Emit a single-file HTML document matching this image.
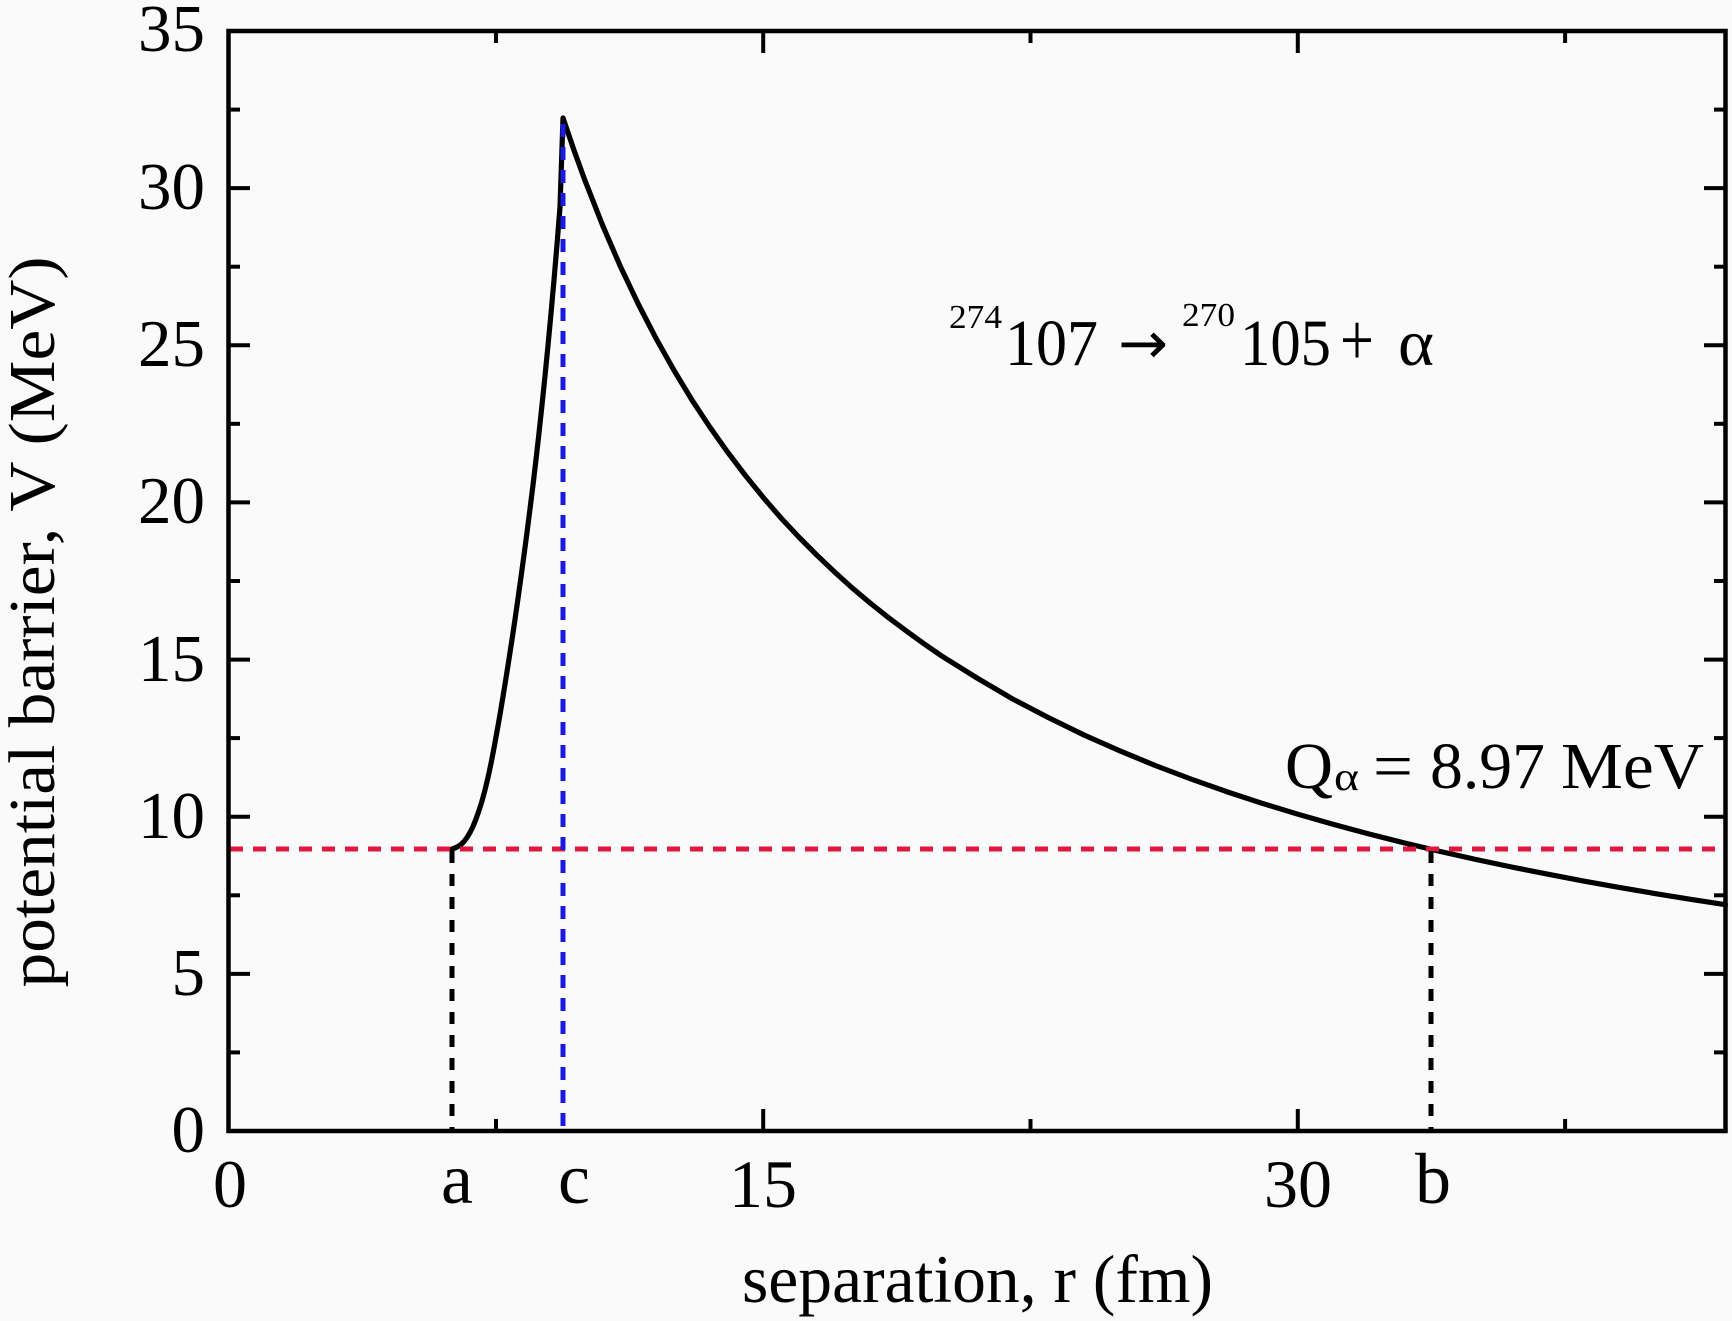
<!DOCTYPE html>
<html>
<head>
<meta charset="utf-8">
<style>
html,body{margin:0;padding:0;background:#fafafa;}
svg{display:block;}
text{font-family:"Liberation Serif","Times New Roman",serif;fill:#000;}
</style>
</head>
<body>
<svg width="1732" height="1321" viewBox="0 0 1732 1321" xmlns="http://www.w3.org/2000/svg">
<rect x="0" y="0" width="1732" height="1321" fill="#fafafa"/>

<!-- curve -->
<polyline fill="none" stroke="#000" stroke-width="5.2" stroke-linejoin="round" stroke-linecap="round"
points="452,849 455,848 458,846.5 461,844.5 464,841.5 467,837.5 470,832.5 473,826.5 476,819 479,810.5 482,801 485,790 488,777.5 491,763.5 494,748 497,731.5 500,714.5 503,696.5 506,678 509,659 512,639.5 515,619.5 518,598.5 521,577 524,555 527,532.5 530,509 533,485 536,459.5 539,433 542,405 545,376 548,345.5 551,313.5 554,280 557,244.5 560,207 563,118 574.3,151.1 585,180.6 602.8,225.8 620.6,266.9 638.5,304.5 656.3,338.9 674.1,370.5 691.9,399.9 709.8,427 727.6,452.1 745.4,475.5 763.2,497.4 781,518 798.8,537 816.7,555 834.5,571.9 852.3,588 870.1,603 887.9,617.2 905.8,630.6 923.6,643.5 941.4,655.8 977,678 1012.7,699 1048.3,717.6 1084,735 1119.6,750.7 1155.2,765.5 1190.9,779 1226.5,791.6 1262.1,803.3 1297.8,814.2 1333.4,824.4 1369.1,834 1404.7,843 1440.4,851.5 1476,859.5 1511.6,867 1547.3,874.1 1582.9,880.9 1618.6,887.3 1654.2,893.4 1689.8,899.2 1725.5,904.7"/>

<!-- dashed lines -->
<line x1="230" y1="849" x2="1724" y2="849" stroke="#e0163f" stroke-width="5" stroke-dasharray="13 10"/>
<line x1="452" y1="851" x2="452" y2="1131" stroke="#000" stroke-width="5" stroke-dasharray="12 11"/>
<line x1="1431" y1="851" x2="1431" y2="1131" stroke="#000" stroke-width="5" stroke-dasharray="12 11"/>
<line x1="563" y1="124" x2="563" y2="1131" stroke="#1a1adc" stroke-width="5" stroke-dasharray="13 10"/>

<!-- axes frame -->
<rect x="228.5" y="31" width="1497" height="1100" fill="none" stroke="#000" stroke-width="4.5"/>

<!-- ticks -->
<g stroke="#000" stroke-width="4">
<line x1="228.5" y1="973.9" x2="250" y2="973.9"/>
<line x1="228.5" y1="816.7" x2="250" y2="816.7"/>
<line x1="228.5" y1="659.6" x2="250" y2="659.6"/>
<line x1="228.5" y1="502.4" x2="250" y2="502.4"/>
<line x1="228.5" y1="345.3" x2="250" y2="345.3"/>
<line x1="228.5" y1="188.1" x2="250" y2="188.1"/>
<line x1="228.5" y1="1052.4" x2="240" y2="1052.4"/>
<line x1="228.5" y1="895.3" x2="240" y2="895.3"/>
<line x1="228.5" y1="738.1" x2="240" y2="738.1"/>
<line x1="228.5" y1="581" x2="240" y2="581"/>
<line x1="228.5" y1="423.8" x2="240" y2="423.8"/>
<line x1="228.5" y1="266.7" x2="240" y2="266.7"/>
<line x1="228.5" y1="109.6" x2="240" y2="109.6"/>
<line x1="1725.5" y1="973.9" x2="1704" y2="973.9"/>
<line x1="1725.5" y1="816.7" x2="1704" y2="816.7"/>
<line x1="1725.5" y1="659.6" x2="1704" y2="659.6"/>
<line x1="1725.5" y1="502.4" x2="1704" y2="502.4"/>
<line x1="1725.5" y1="345.3" x2="1704" y2="345.3"/>
<line x1="1725.5" y1="188.1" x2="1704" y2="188.1"/>
<line x1="1725.5" y1="1052.4" x2="1714" y2="1052.4"/>
<line x1="1725.5" y1="895.3" x2="1714" y2="895.3"/>
<line x1="1725.5" y1="738.1" x2="1714" y2="738.1"/>
<line x1="1725.5" y1="581" x2="1714" y2="581"/>
<line x1="1725.5" y1="423.8" x2="1714" y2="423.8"/>
<line x1="1725.5" y1="266.7" x2="1714" y2="266.7"/>
<line x1="1725.5" y1="109.6" x2="1714" y2="109.6"/>
<line x1="763.2" y1="1131" x2="763.2" y2="1109"/>
<line x1="1297.8" y1="1131" x2="1297.8" y2="1109"/>
<line x1="496" y1="1131" x2="496" y2="1119"/>
<line x1="1030.5" y1="1131" x2="1030.5" y2="1119"/>
<line x1="1565.1" y1="1131" x2="1565.1" y2="1119"/>
<line x1="763.2" y1="31" x2="763.2" y2="53"/>
<line x1="1297.8" y1="31" x2="1297.8" y2="53"/>
<line x1="496" y1="31" x2="496" y2="43"/>
<line x1="1030.5" y1="31" x2="1030.5" y2="43"/>
<line x1="1565.1" y1="31" x2="1565.1" y2="43"/>
</g>

<!-- y tick labels -->
<g font-size="67" text-anchor="end">
<text x="205" y="1152">0</text>
<text x="205" y="995">5</text>
<text x="205" y="838">10</text>
<text x="205" y="681">15</text>
<text x="205" y="523">20</text>
<text x="205" y="366">25</text>
<text x="205" y="209">30</text>
<text x="205" y="51">35</text>
</g>

<!-- x tick labels -->
<g font-size="68" text-anchor="middle">
<text x="230" y="1207">0</text>
<text x="763" y="1207">15</text>
<text x="1298" y="1207">30</text>
</g>
<g font-size="72" text-anchor="middle">
<text x="457" y="1203">a</text>
<text x="574" y="1203">c</text>
<text x="1433" y="1203">b</text>
</g>

<!-- axis titles -->
<text x="742" y="1302" font-size="68" textLength="471" lengthAdjust="spacingAndGlyphs">separation, r (fm)</text>
<text transform="translate(54,622) rotate(-90)" font-size="66" text-anchor="middle" textLength="731" lengthAdjust="spacingAndGlyphs">potential barrier, V (MeV)</text>

<!-- reaction annotation -->
<text x="949" y="328" font-size="34" textLength="53" lengthAdjust="spacingAndGlyphs">274</text>
<text x="1005" y="365" font-size="66" textLength="93" lengthAdjust="spacingAndGlyphs">107</text>
<text x="1118" y="363" font-size="58" textLength="50" lengthAdjust="spacingAndGlyphs" style="font-family:'DejaVu Sans',sans-serif">→</text>
<text x="1182" y="326" font-size="34" textLength="53" lengthAdjust="spacingAndGlyphs">270</text>
<text x="1240" y="365" font-size="66" textLength="91" lengthAdjust="spacingAndGlyphs">105</text>
<text x="1340" y="365" font-size="74" textLength="34" lengthAdjust="spacingAndGlyphs">+</text>
<text x="1398" y="365" font-size="66" textLength="36" lengthAdjust="spacingAndGlyphs">α</text>

<!-- Q alpha -->
<text x="1285" y="788" font-size="66" textLength="48" lengthAdjust="spacingAndGlyphs">Q</text>
<text x="1334" y="790" font-size="40" textLength="25" lengthAdjust="spacingAndGlyphs">α</text>
<text x="1373" y="788" font-size="66" textLength="40" lengthAdjust="spacingAndGlyphs">=</text>
<text x="1430" y="788" font-size="66" textLength="115" lengthAdjust="spacingAndGlyphs">8.97</text>
<text x="1561" y="788" font-size="66" textLength="143" lengthAdjust="spacingAndGlyphs">MeV</text>
</svg>
</body>
</html>
